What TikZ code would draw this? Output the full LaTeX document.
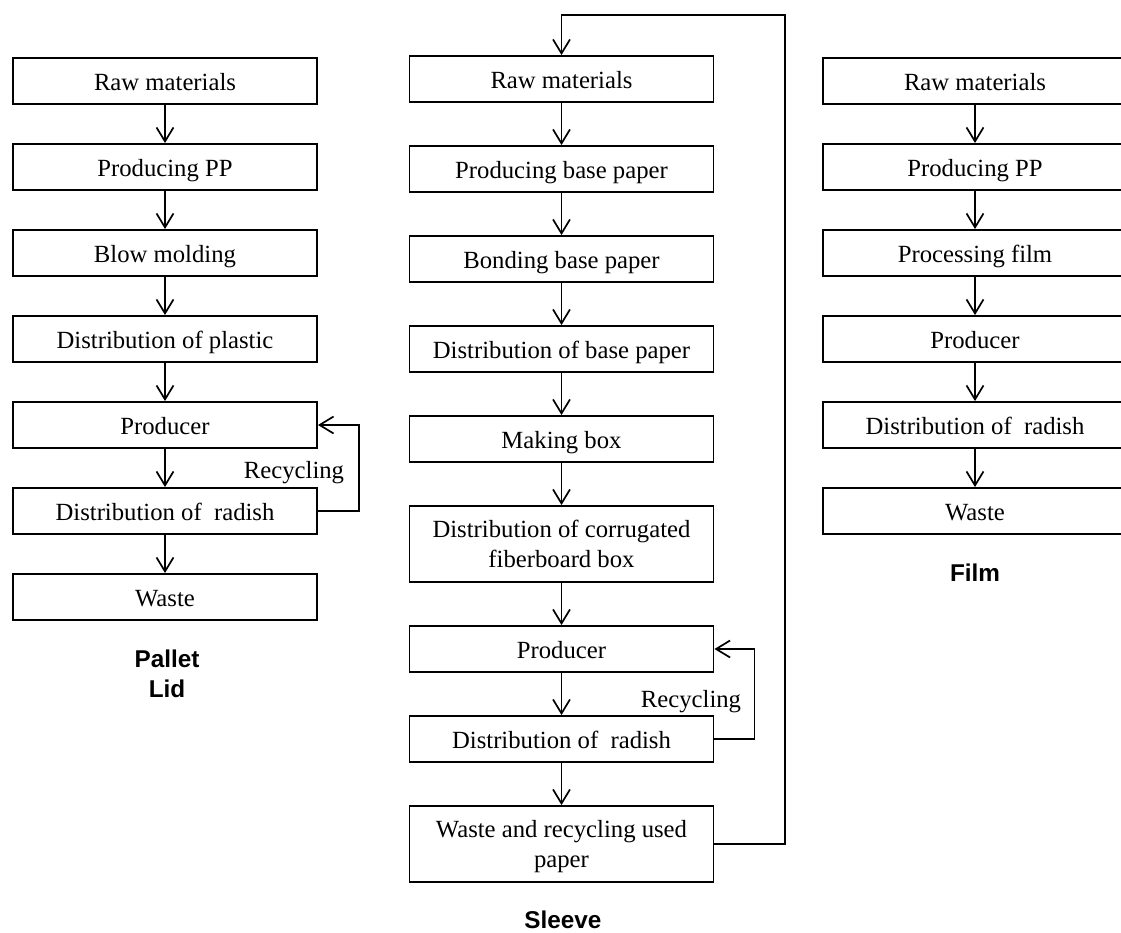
\documentclass[tikz,border=0pt]{standalone}
\usepackage{fontspec}
\setmainfont{Liberation Serif}
\newfontfamily\lblfont{Liberation Sans}
\usetikzlibrary{arrows.meta}
\begin{document}
\begin{tikzpicture}[x=1pt,y=-1pt,
  box/.style={draw, line width=1.9pt, minimum width=304pt, minimum height=46pt,
    inner sep=0pt, align=center, text height=24pt, text depth=5pt,
    font=\fontsize{24.7}{29.5}\selectfont},
  tallbox/.style={box, minimum height=76pt, text height={}, text depth={}},
  flow/.style={line width=1.7pt, line join=miter, -{Straight Barb[length=14pt,width=17pt,line width=1.7pt]}},
  lbl/.style={font=\fontsize{24.7}{29}\selectfont, anchor=base, inner sep=0pt},
  ttl/.style={font=\lblfont\bfseries\fontsize{24.3}{30}\selectfont, anchor=base, inner sep=0pt}]
\useasboundingbox (0,0) rectangle (1121,933);
\clip (0,0) rectangle (1121,933);

% ---------- Left column: Pallet / Lid ----------
\node[box] (L1) at (165,81)  {Raw materials};
\node[box] (L2) at (165,167) {Producing PP};
\node[box] (L3) at (165,253) {Blow molding};
\node[box] (L4) at (165,339) {Distribution of plastic};
\node[box] (L5) at (165,425) {Producer};
\node[box] (L6) at (165,511) {Distribution of~ radish};
\node[box] (L7) at (165,597) {Waste};
\foreach \a/\b in {L1/L2,L2/L3,L3/L4,L4/L5,L5/L6,L6/L7}
  \draw[flow] (\a.south) -- (\b.north);
\draw[flow] (L6.east) -- ++(41,0) |- (L5.east);
\node[lbl] (Lrec) at (294,478) {Recycling};
\node[ttl] (Lt1) at (167,667) {Pallet};
\node[ttl] (Lt2) at (167,697) {Lid};

% ---------- Middle column: Sleeve ----------
\node[box] (M1) at (561.5,79)  {Raw materials};
\node[box] (M2) at (561.5,169) {Producing base paper};
\node[box] (M3) at (561.5,259) {Bonding base paper};
\node[box] (M4) at (561.5,349) {Distribution of base paper};
\node[box] (M5) at (561.5,439) {Making box};
\node[tallbox] (M6) at (561.5,544) {Distribution of corrugated\\fiberboard box};
\node[box] (M7) at (561.5,649) {Producer};
\node[box] (M8) at (561.5,739) {Distribution of~ radish};
\node[tallbox] (M9) at (561.5,844) {Waste and recycling used\\\raisebox{0pt}[\height][0pt]{paper}};
\foreach \a/\b in {M1/M2,M2/M3,M3/M4,M4/M5,M5/M6,M6/M7,M7/M8,M8/M9}
  \draw[flow] (\a.south) -- (\b.north);
\draw[flow] (M8.east) -- ++(40,0) |- (M7.east);
\node[lbl] (Mrec) at (691,707) {Recycling};
\coordinate (loopR) at (785,15);
\draw[flow] (M9.east) -| (loopR) -| (M1.north);
\node[ttl] (Mt) at (563,928) {Sleeve};

% ---------- Right column: Film ----------
\node[box] (R1) at (975,81)  {Raw materials};
\node[box] (R2) at (975,167) {Producing PP};
\node[box] (R3) at (975,253) {Processing film};
\node[box] (R4) at (975,339) {Producer};
\node[box] (R5) at (975,425) {Distribution of~ radish};
\node[box] (R6) at (975,511) {Waste};
\foreach \a/\b in {R1/R2,R2/R3,R3/R4,R4/R5,R5/R6}
  \draw[flow] (\a.south) -- (\b.north);
\node[ttl] (Rt) at (975,581) {Film};
\end{tikzpicture}
\end{document}
